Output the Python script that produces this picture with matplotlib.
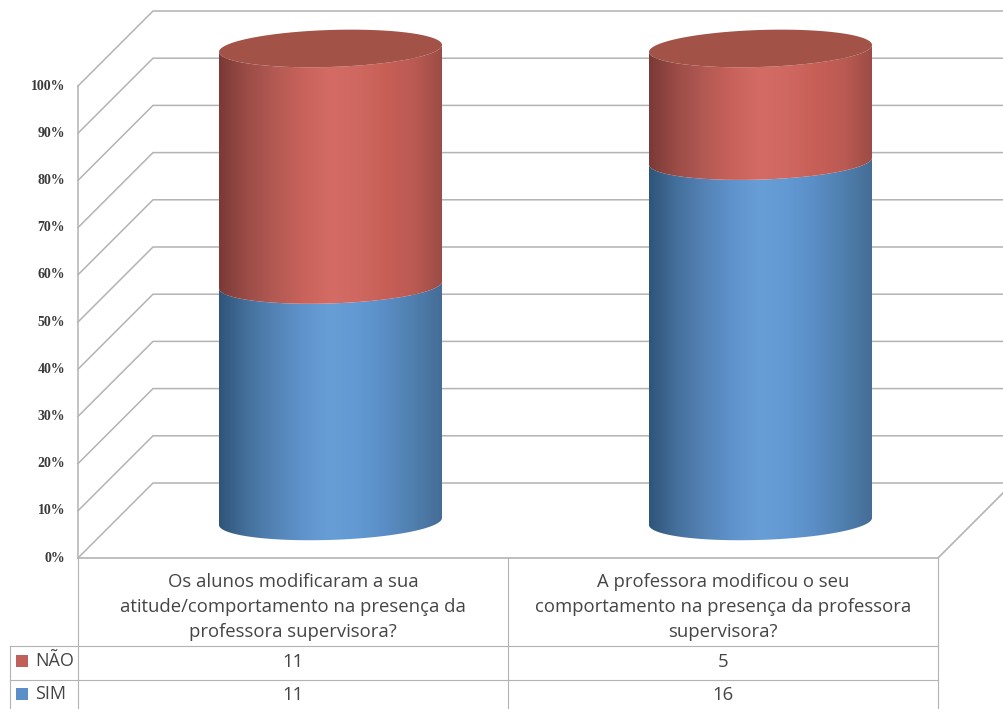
import numpy as np
import matplotlib
matplotlib.use("Agg")
import matplotlib.pyplot as plt
from matplotlib.colors import LinearSegmentedColormap
from matplotlib.patches import Polygon, Rectangle

questions = [
    "Os alunos modificaram a sua\natitude/comportamento na presença da\nprofessora supervisora?",
    "A professora modificou o seu\ncomportamento na presença da professora\nsupervisora?",
]
series_names = ["NÃO", "SIM"]
nao_counts = [11, 5]
sim_counts = [11, 16]
percent_ticks = [0, 10, 20, 30, 40, 50, 60, 70, 80, 90, 100]

# cores dos cilindros, da esquerda para a direita
red_stops = ["#7a3a36", "#9c4c47", "#b35a53", "#c8625a", "#d46c65", "#cf6860", "#c75f57", "#bb5a53", "#9c4c46"]
blue_stops = ["#2f5579", "#44709c", "#5483b6", "#5f93cb", "#689ed6", "#6299d2", "#5a8dc5", "#4f7fae", "#456d96"]
red_cmap = LinearSegmentedColormap.from_list("cil_red", red_stops)
blue_cmap = LinearSegmentedColormap.from_list("cil_blue", blue_stops)

GRID = "#b3b3b3"
PX = 4.72        # pixels por ponto percentual
DEPTH_X = 75
DEPTH_Y = 75 / PX
Y0_PX = 558      # linha do 0% na parede da frente


def py(pixel_y):
    # converte uma altura em pixels para a escala de percentagem
    return (Y0_PX - pixel_y) / PX


fig = plt.figure(figsize=(10.04, 7.09), dpi=100, facecolor="white")
ax = fig.add_axes([0, 0, 1, 1])
ax.axis("off")

# paredes e grelha em perspetiva
ax.plot([78, 78], [0, 100], color=GRID, lw=1.1, zorder=1)
for p in percent_ticks:
    ax.plot([78, 78 + DEPTH_X, 1004], [p, p + DEPTH_Y, p + DEPTH_Y], color=GRID, lw=1.1, zorder=1)
    ax.text(65, p, f"{p}%", ha="right", va="center", fontsize=10, fontweight="bold",
            family="Liberation Serif", color="#3a3a3a")
ax.plot([78, 938, 1004], [0, 0, 66 / PX], color=GRID, lw=1.2, zorder=1)

# cilindros empilhados a 100%
CYL_LEFT = [219, 649]
CYL_WIDTH = 223
BASE = 7.75
CYL_H = 100.2
ELL_B = 18.5 / PX
SLANT = 3.5 / PX


def arc(cx, a, level, t):
    # elipse inclinada, como a base de um cilindro visto de cima
    return cx + a * np.cos(t), level + ELL_B * np.sin(t) + SLANT * np.cos(t)


def section(x0, low, high, cmap):
    a = CYL_WIDTH / 2
    cx = x0 + a
    t = np.linspace(np.pi, 2 * np.pi, 80)
    xb, yb = arc(cx, a, low, t)
    xt, yt = arc(cx, a, high, t[::-1])
    verts = np.column_stack([np.r_[xb, xt], np.r_[yb, yt]])
    clip = Polygon(verts, closed=True, transform=ax.transData, fc="none", ec="none")
    ax.add_patch(clip)
    grad = np.linspace(0, 1, 256).reshape(1, -1)
    img = ax.imshow(grad, cmap=cmap, aspect="auto", zorder=3,
                    extent=[x0, x0 + CYL_WIDTH, py(560), py(20)])
    img.set_clip_path(clip)


for x0, nao, sim in zip(CYL_LEFT, nao_counts, sim_counts):
    total = nao + sim
    seam = BASE + CYL_H * sim / total
    top = BASE + CYL_H
    section(x0, BASE, seam, blue_cmap)
    section(x0, seam, top, red_cmap)
    a = CYL_WIDTH / 2
    t = np.linspace(0, 2 * np.pi, 160)
    xt, yt = arc(x0 + a, a, top, t)
    ax.fill(xt, yt, color="#a25247", lw=0, zorder=4)

# tabela de dados por baixo do grafico
table_lines = [
    ([78, 78], [558, 709]), ([508, 508], [558, 709]), ([938, 938], [558, 709]),
    ([10, 938], [646, 646]), ([10, 938], [679.5, 679.5]), ([10, 10], [646, 709]),
]
for xs, ys in table_lines:
    ax.plot(xs, [py(v) for v in ys], color=GRID, lw=0.8, zorder=1)

col_centers = [293, 723]
for cx, q, nao, sim in zip(col_centers, questions, nao_counts, sim_counts):
    ax.text(cx, py(607), q, ha="center", va="center", fontsize=13.3, family="Open Sans",
            color="#454545", linespacing=1.53)
    ax.text(cx, py(662), str(nao), ha="center", va="center", fontsize=13.3, family="Open Sans", color="#454545")
    ax.text(cx, py(695), str(sim), ha="center", va="center", fontsize=13.3, family="Open Sans", color="#454545")

# legenda dentro da tabela
for name, key_y, color in zip(series_names, [661, 694], ["#c0605a", "#5b8fc7"]):
    ax.add_patch(Rectangle((16, py(key_y + 6)), 12, 12 / PX, fc=color, ec="none", zorder=3))
    ax.text(35, py(key_y), name, ha="left", va="center", fontsize=13, family="Open Sans", color="#454545")

ax.set_xlim(0, 1004)
ax.set_ylim(py(709), py(0))
fig.savefig("out.png", dpi=100)
